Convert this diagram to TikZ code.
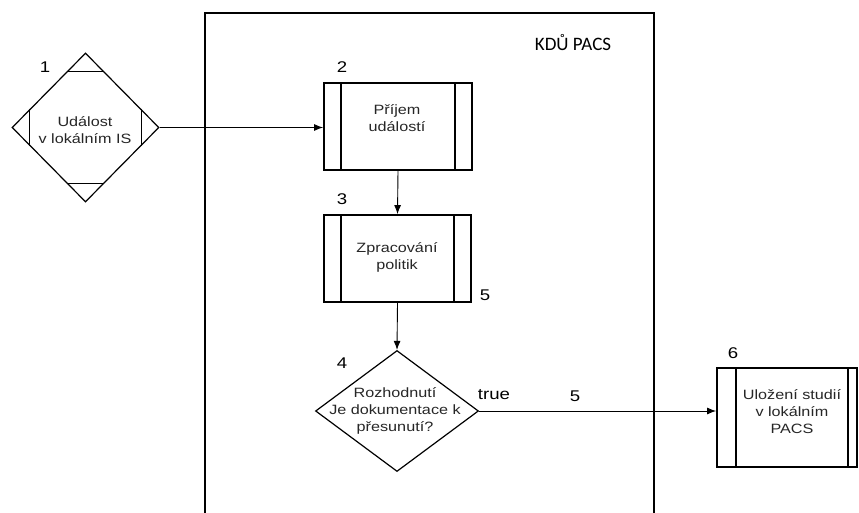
\documentclass[tikz,border=0pt]{standalone}
\usepackage{fontspec}
\setmainfont{Liberation Sans}[FakeStretch=1.2]
\newfontfamily\kdufont{Carlito}
\usetikzlibrary{shapes.geometric,calc,arrows.meta}
\begin{document}
\begin{tikzpicture}[x=1pt,y=-1pt,
  box/.style={draw, line width=1.8pt, inner sep=0pt},
  inner/.style={line width=1.8pt},
  cut/.style={line width=1pt},
  dia/.style={diamond, draw, line width=1.2pt, inner sep=0pt},
  txt/.style={font=\fontsize{13.5}{17}\selectfont, align=center, inner sep=0pt, text=black!85},
  num/.style={font=\fontsize{15.5}{17}\selectfont, inner sep=0pt},
  conn/.style={-{Latex[length=9pt,width=7pt]}, line width=0.9pt},
  frame/.style={line width=1.4pt}]
\useasboundingbox (0,0) rectangle (859,513);

% frame
\draw[frame] (205,513) -- (205,13) -- (654,13) -- (654,513);
\node[font=\kdufont\fontsize{19}{22}\selectfont, inner sep=0pt] (kdu) at (573,43) {KDŮ PACS};

% diamond 1
\node[dia, minimum width=147pt, minimum height=149pt] (d1) at (85.5,127.5) {};
\draw[cut] ($(d1.north)!0.25!(d1.west)$) -- ($(d1.north)!0.25!(d1.east)$);
\draw[cut] ($(d1.south)!0.25!(d1.west)$) -- ($(d1.south)!0.25!(d1.east)$);
\draw[cut] ($(d1.west)!0.25!(d1.north)$) -- ($(d1.west)!0.25!(d1.south)$);
\draw[cut] ($(d1.east)!0.25!(d1.north)$) -- ($(d1.east)!0.25!(d1.south)$);
\node[txt] (t1) at (85,130) {Událost\\v lokálním IS};
\node[num] (n1) at (45,67) {1};

% box 2
\node[box, minimum width=148pt, minimum height=87pt] (b2) at (398,126.5) {};
\draw[inner] ([xshift=18pt]b2.north west) -- ([xshift=18pt]b2.south west);
\draw[inner] ([xshift=-18pt]b2.north east) -- ([xshift=-18pt]b2.south east);
\node[txt] (t2) at (397,118) {Příjem\\událostí};
\node[num] (n2) at (342,67) {2};

% box 3
\node[box, minimum width=147pt, minimum height=87pt] (b3) at (397.5,258.5) {};
\draw[inner] ([xshift=18pt]b3.north west) -- ([xshift=18pt]b3.south west);
\draw[inner] ([xshift=-18pt]b3.north east) -- ([xshift=-18pt]b3.south east);
\node[txt] (t3) at (397,257) {Zpracování\\politik};
\node[num] (n3) at (342,199) {3};
\node[num] (n5a) at (485,295) {5};

% diamond 4
\node[dia, minimum width=163pt, minimum height=121pt] (d4) at (397,411) {};
\node[txt] (t4) at (395,411) {Rozhodnutí\\Je dokumentace k\\přesunutí?};
\node[num] (n4) at (342,363) {4};

% box 6
\node[box, minimum width=140pt, minimum height=99pt] (b6) at (787,417.5) {};
\draw[inner] ([xshift=20pt]b6.north west) -- ([xshift=20pt]b6.south west);
\draw[inner] ([xshift=-10pt]b6.north east) -- ([xshift=-10pt]b6.south east);
\node[txt] (t6) at (792,412) {Uložení studií\\v lokálním\\PACS};
\node[num] (n6) at (733,353) {6};

% connectors
\draw[conn] (d1.east) -- (d1.east -| b2.west);
\draw[conn] (b2.south) -- (b3.north);
\draw[conn] (b3.south) -- (d4.north);
\draw[conn] (d4.east) -- (d4.east -| b6.west);
\node[num] (tr) at (494,395) {true};
\node[num] (n5b) at (575,396) {5};
\end{tikzpicture}
\end{document}
